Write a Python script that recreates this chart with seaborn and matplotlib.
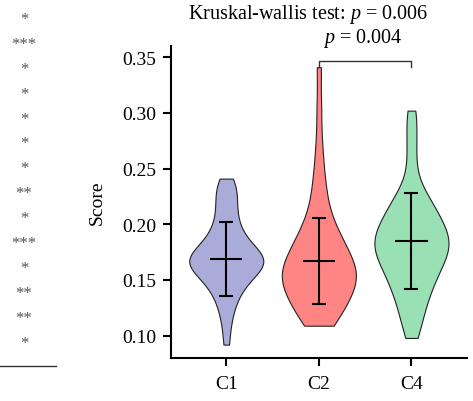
import numpy as np
import pandas as pd
import seaborn as sns
import matplotlib.pyplot as plt

# ---------------- data ----------------
groups = ["C1", "C2", "C4"]
c1_scores = [0.092, 0.108, 0.118, 0.126, 0.131, 0.136, 0.140,
             0.143, 0.146, 0.149, 0.151, 0.153, 0.155, 0.157, 0.158, 0.160, 0.161,
             0.163, 0.164, 0.165, 0.166, 0.167, 0.168, 0.169, 0.170, 0.171, 0.172,
             0.174, 0.175, 0.177, 0.179, 0.181, 0.183, 0.185, 0.188, 0.191, 0.194,
             0.198, 0.202, 0.207, 0.212, 0.217, 0.222, 0.227, 0.232, 0.236, 0.241]
c2_scores = [0.109, 0.111, 0.114, 0.117, 0.120, 0.123, 0.126, 0.129, 0.132, 0.134,
             0.137, 0.139, 0.141, 0.143, 0.145, 0.147, 0.148, 0.150, 0.152, 0.153,
             0.155, 0.157, 0.158, 0.160, 0.162, 0.164, 0.166, 0.168, 0.170, 0.172,
             0.175, 0.177, 0.180, 0.183, 0.186, 0.189, 0.192, 0.196, 0.200, 0.205,
             0.213, 0.221, 0.230, 0.241, 0.255, 0.275, 0.305, 0.341]
c4_scores = [0.098, 0.108, 0.116, 0.123, 0.129, 0.134, 0.139, 0.143, 0.147, 0.151,
             0.154, 0.157, 0.160, 0.163, 0.166, 0.168, 0.171, 0.173, 0.175, 0.177,
             0.179, 0.181, 0.183, 0.185, 0.187, 0.189, 0.191, 0.193, 0.195, 0.198,
             0.200, 0.203, 0.206, 0.209, 0.212, 0.215, 0.219, 0.223, 0.228, 0.234,
             0.252, 0.270, 0.287, 0.302]
group_means = [0.169, 0.167, 0.185]
group_sds = [0.0333, 0.0383, 0.0432]
colors = ["#a9acd8", "#ff8585", "#99e0b5"]
y_ticks = [0.10, 0.15, 0.20, 0.25, 0.30, 0.35]
row_marks = ["*", "***", "*", "*", "*", "*", "*", "**", "*", "***", "*", "**", "**", "*"]
title_text = "Kruskal-wallis test: $p$ = 0.006"
pair_text = "$p$ = 0.004"
pair = ("C2", "C4")

# ---------------- style ----------------
plt.rcParams["font.family"] = ["Liberation Serif", "DejaVu Serif"]
plt.rcParams["mathtext.fontset"] = "custom"
plt.rcParams["mathtext.rm"] = "Liberation Serif"
plt.rcParams["mathtext.it"] = "Liberation Serif:italic"

df = pd.DataFrame({
    "group": ["C1"] * len(c1_scores) + ["C2"] * len(c2_scores) + ["C4"] * len(c4_scores),
    "score": c1_scores + c2_scores + c4_scores,
})

W, H = 473, 402
fig = plt.figure(figsize=(W / 100, H / 100), dpi=100)
ax = fig.add_axes([170.7 / W, 1 - 359 / H, (467 - 170.7) / W, (359 - 47) / H])

sns.violinplot(data=df, x="group", y="score", hue="group", order=groups,
               hue_order=groups, palette=colors, saturation=1, cut=0, inner=None,
               linewidth=0.8, linecolor="#222222", width=0.8, bw_adjust=0.7,
               density_norm="area", legend=False, ax=ax)

pos = np.arange(len(groups))
ax.errorbar(pos, group_means, yerr=group_sds, fmt="none", ecolor="black",
            elinewidth=1.5, capsize=5, capthick=1.5, zorder=5)
ax.hlines(group_means, pos - 0.175, pos + 0.175, colors="black", lw=1.5, zorder=5)

# bracket between C2 and C4
i1, i2 = groups.index(pair[0]), groups.index(pair[1])
ax.plot([i1, i1, i2, i2], [0.3415, 0.3467, 0.3467, 0.3416], color="#333333",
        lw=1.0, clip_on=False, zorder=6)

ax.set_xlim(-0.6, 2.6)
ax.set_ylim(0.08, 0.36)
ax.set_yticks(y_ticks)
ax.set_yticklabels([f"{t:.2f}" for t in y_ticks])
ax.set_xlabel("")
ax.set_ylabel("Score", fontsize=14, labelpad=12)
for s in ["top", "right"]:
    ax.spines[s].set_visible(False)
for s in ["left", "bottom"]:
    ax.spines[s].set_linewidth(1.5)
ax.tick_params(axis="y", which="major", length=5.5, width=1.5,
               labelsize=14, pad=5, color="black")
ax.tick_params(axis="x", which="major", length=5.5, width=1.5,
               labelsize=14, pad=7, color="black")

fig.text(308 / W, 1 - 15 / H, title_text, ha="center", va="center", fontsize=14.5)
fig.text(363 / W, 1 - 39 / H, pair_text, ha="center", va="center", fontsize=14.5)

# cropped table column on the left
for k, m in enumerate(row_marks):
    fig.text(24 / W, 1 - (20 + 24.9 * k) / H, m, ha="center", va="center",
             fontsize=12, color="#555555")
fig.add_artist(plt.Line2D([0, 56 / W], [1 - 366.7 / H, 1 - 366.7 / H],
                          color="#333333", lw=1.0))

fig.savefig("out.png", dpi=100)
